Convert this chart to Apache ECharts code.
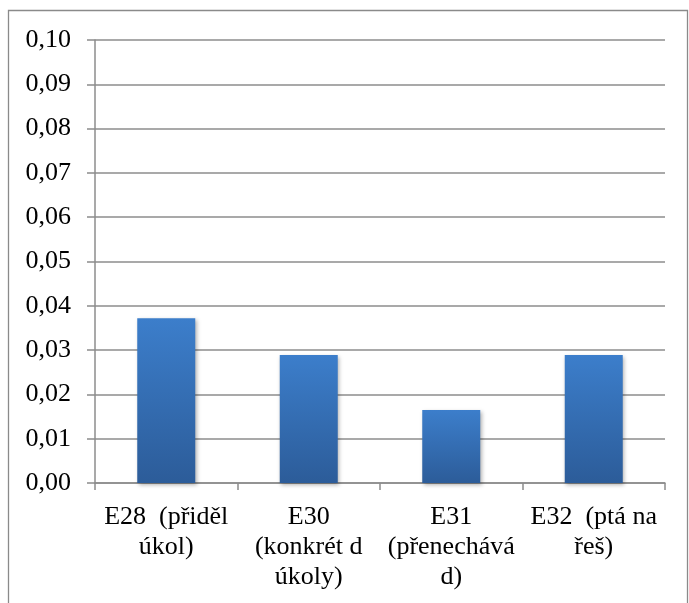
<!DOCTYPE html>
<html>
<head>
<meta charset="utf-8">
<script src="https://cdn.jsdelivr.net/npm/echarts@6/dist/echarts.min.js"></script>
<style>
  html, body { margin: 0; padding: 0; background: #ffffff; }
  #chart { width: 689px; height: 603px; }
</style>
</head>
<body>
<div id="chart"></div>
<script>
// Categories (activity codes with short descriptions)
const categories = [
  'E28  (přiděl\núkol)',
  'E30\n(konkrét d\núkoly)',
  'E31\n(přenechává\nd)',
  'E32  (ptá na\nřeš)'
];
// Bar values
const values = [0.0372, 0.0289, 0.0165, 0.0289];
// Value axis range
const yMin = 0;
const yMax = 0.10;
const yStep = 0.01;

const serif = '"Liberation Serif", "Times New Roman", "DejaVu Serif", serif';
const gray = '#8c8c8c';

const chart = echarts.init(document.getElementById('chart'), null, { renderer: 'canvas' });
chart.setOption({
  backgroundColor: '#ffffff',
  animation: false,
  graphic: [{
    type: 'rect',
    shape: { x: 8.5, y: 10.5, width: 679, height: 620 },
    style: { fill: 'none', stroke: '#8a8a8a', lineWidth: 1.3 },
    silent: true,
    z: -1
  }],
  grid: { left: 95, right: 24, top: 40, bottom: 120, containLabel: false },
  xAxis: {
    type: 'category',
    data: categories,
    axisLine: { show: true, lineStyle: { color: gray, width: 1.5 } },
    axisTick: { show: true, length: 7, lineStyle: { color: gray, width: 1.5 } },
    axisLabel: {
      interval: 0,
      margin: 19,
      color: '#000000',
      fontFamily: serif,
      fontSize: 26,
      lineHeight: 30,
      align: 'center'
    }
  },
  yAxis: {
    type: 'value',
    min: yMin,
    max: yMax,
    interval: yStep,
    axisLine: { show: true, lineStyle: { color: gray, width: 1.5 } },
    axisTick: { show: true, length: 8, lineStyle: { color: gray, width: 1.5 } },
    splitLine: { show: true, lineStyle: { color: gray, width: 1.5 } },
    axisLabel: {
      margin: 24,
      color: '#000000',
      fontFamily: serif,
      fontSize: 26,
      formatter: v => v.toFixed(2).replace('.', ',')
    }
  },
  series: [{
    type: 'bar',
    data: values,
    barWidth: 58,
    itemStyle: {
      color: new echarts.graphic.LinearGradient(0, 0, 0, 1, [
        { offset: 0, color: '#3c7ecb' },
        { offset: 1, color: '#2c5c99' }
      ]),
      shadowColor: 'rgba(0,0,0,0.3)',
      shadowBlur: 4,
      shadowOffsetX: 1.5,
      shadowOffsetY: 2
    }
  }]
});
</script>
</body>
</html>
